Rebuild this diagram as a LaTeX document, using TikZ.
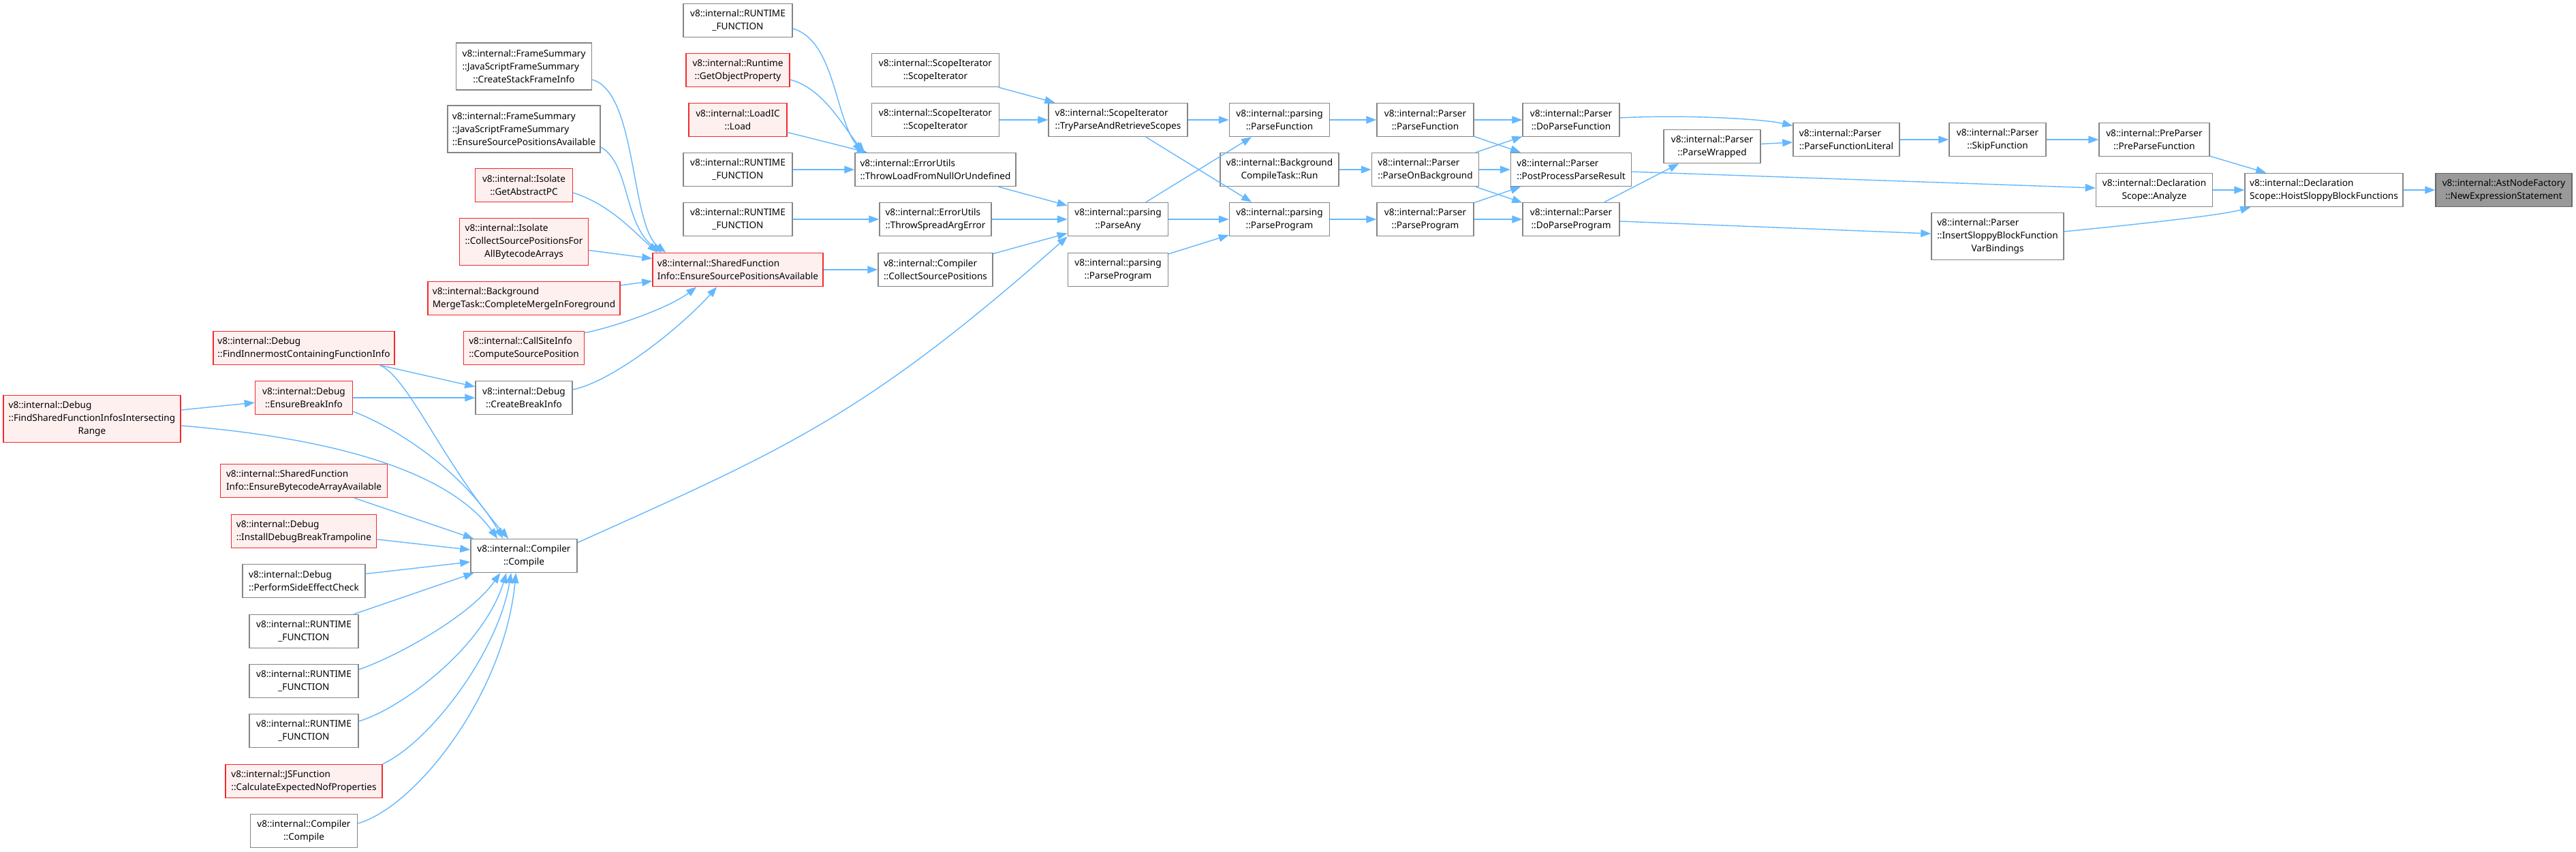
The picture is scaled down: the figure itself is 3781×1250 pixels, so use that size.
\documentclass[tikz,border=0pt]{standalone}
\usepackage{fontspec}
\usepackage{calc}
\newfontfamily\graphfont{Noto Sans}
\usetikzlibrary{arrows.meta}
\definecolor{edgeblue}{HTML}{63B8FF}
\definecolor{boxgray}{HTML}{858585}
\definecolor{boxred}{HTML}{F22A2A}
\definecolor{boxpink}{HTML}{FFF0F0}
\definecolor{rootfill}{HTML}{999999}
\definecolor{rootline}{HTML}{666666}
\newcommand{\padline}[2]{\makebox[\widthof{#1}][l]{#2}}

\begin{document}
\begin{tikzpicture}[x=1pt,y=-1pt,
  fn/.style={draw=boxgray,fill=white,line width=1.5pt,inner sep=2pt,minimum height=49pt,
    align=center,font=\graphfont\fontsize{13.6}{19}\selectfont},
  fnl/.style={fn,align=left},
  hot/.style={draw=boxred,fill=boxpink},
  root/.style={draw=rootline,fill=rootfill},
  tall/.style={minimum height=69pt},
  call/.style={draw=edgeblue,line width=1.4pt,-{Triangle[length=15pt,width=11pt]}},
]
\path[use as bounding box,fill=white] (0,0) rectangle (3781,1250);

\node[fn,root,minimum width=200pt] (ast) at (3675,279) {v8::internal::AstNodeFactory\\::NewExpressionStatement};
\node[fnl,minimum width=232pt] (dsh) at (3411,279) {v8::internal::Declaration\\Scope::HoistSloppyBlockFunctions};
\node[fn,minimum width=162pt] (ppf) at (3162,205) {v8::internal::PreParser\\::PreParseFunction};
\node[fn,minimum width=171pt] (dsa) at (3162,279) {v8::internal::Declaration\\Scope::Analyze};
\node[fn,minimum width=142pt] (psk) at (2932,205) {v8::internal::Parser\\::SkipFunction};
\node[fn,tall,minimum width=194pt] (pis) at (2932,347) {\padline{::InsertSloppyBlockFunction}{v8::internal::Parser}\\::InsertSloppyBlockFunction\\VarBindings};
\node[fnl,minimum width=156pt] (pfl) at (2710,205) {v8::internal::Parser\\::ParseFunctionLiteral};
\node[fn,minimum width=142pt] (pwr) at (2513,215) {v8::internal::Parser\\::ParseWrapped};
\node[fn,minimum width=142pt] (pdf) at (2306,176) {v8::internal::Parser\\::DoParseFunction};
\node[fnl,minimum width=177pt] (ppp) at (2306,249) {v8::internal::Parser\\::PostProcessParseResult};
\node[fn,minimum width=142pt] (pdp) at (2306,322) {v8::internal::Parser\\::DoParseProgram};
\node[fn,minimum width=142pt] (prf) at (2092,176) {v8::internal::Parser\\::ParseFunction};
\node[fnl,minimum width=157pt] (prb) at (2092,249) {v8::internal::Parser\\::ParseOnBackground};
\node[fn,minimum width=142pt] (prp) at (2092,322) {v8::internal::Parser\\::ParseProgram};
\node[fn,minimum width=147pt] (pfn) at (1878,176) {v8::internal::parsing\\::ParseFunction};
\node[fn,minimum width=174pt] (bct) at (1878,249) {v8::internal::Background\\CompileTask::Run};
\node[fn,minimum width=147pt] (ppr) at (1878,322) {v8::internal::parsing\\::ParseProgram};
\node[fnl,minimum width=204pt] (sitp) at (1641,176) {v8::internal::ScopeIterator\\::TryParseAndRetrieveScopes};
\node[fn,minimum width=147pt] (pany) at (1641,322) {v8::internal::parsing\\::ParseAny};
\node[fn,minimum width=147pt] (ppr2) at (1641,396) {v8::internal::parsing\\::ParseProgram};
\node[fn,minimum width=187pt] (si1) at (1373,103) {v8::internal::ScopeIterator\\::ScopeIterator};
\node[fn,minimum width=187pt] (si2) at (1373,176) {v8::internal::ScopeIterator\\::ScopeIterator};
\node[fnl,minimum width=236pt] (eutl) at (1373,249) {v8::internal::ErrorUtils\\::ThrowLoadFromNullOrUndefined};
\node[fnl,minimum width=164pt] (euts) at (1373,322) {v8::internal::ErrorUtils\\::ThrowSpreadArgError};
\node[fnl,minimum width=168pt] (cmpcs) at (1373,396) {v8::internal::Compiler\\::CollectSourcePositions};
\foreach \n/\x/\y in {rt1/1083/30,rt2/1083/249,rt3/1083/322,rtc1/446/927,rtc2/446/1000,rtc3/446/1073}
  \node[fn,minimum width=160pt] (\n) at (\x,\y) {v8::internal::RUNTIME\\\_FUNCTION};
\node[fn,hot,minimum width=152pt] (rgop) at (1083,103) {v8::internal::Runtime\\::GetObjectProperty};
\node[fn,hot,minimum width=144pt] (lic) at (1083,176) {v8::internal::LoadIC\\::Load};
\node[fnl,hot,minimum width=250pt] (sfis) at (1083,396) {v8::internal::SharedFunction\\Info::EnsureSourcePositionsAvailable};
\node[fn,tall,minimum width=199pt] (fsc) at (769,97.5) {v8::internal::FrameSummary\\\padline{v8::internal::FrameSummary}{::JavaScriptFrameSummary}\\::CreateStackFrameInfo};
\node[fnl,tall,minimum width=224pt] (fse) at (769,189.5) {v8::internal::FrameSummary\\::JavaScriptFrameSummary\\::EnsureSourcePositionsAvailable};
\node[fn,hot,minimum width=143pt] (isog) at (769,272) {v8::internal::Isolate\\::GetAbstractPC};
\node[fn,hot,tall,minimum width=189pt] (isoc) at (769,355) {\padline{::CollectSourcePositionsFor}{v8::internal::Isolate}\\::CollectSourcePositionsFor\\AllBytecodeArrays};
\node[fnl,hot,minimum width=282pt] (bmt) at (769,438) {v8::internal::Background\\MergeTask::CompleteMergeInForeground};
\node[fnl,hot,minimum width=177pt] (csi) at (769,511) {v8::internal::CallSiteInfo\\::ComputeSourcePosition};
\node[fn,minimum width=142pt] (dbgcb) at (769,584) {v8::internal::Debug\\::CreateBreakInfo};
\node[fn,minimum width=156pt] (cmpc) at (769,816) {v8::internal::Compiler\\::Compile};
\node[fnl,hot,minimum width=266pt] (dbgfi) at (446,511) {v8::internal::Debug\\::FindInnermostContainingFunctionInfo};
\node[fn,hot,minimum width=143pt] (dbgeb) at (446,584) {v8::internal::Debug\\::EnsureBreakInfo};
\node[fnl,hot,minimum width=245pt] (sfieb) at (446,706) {v8::internal::SharedFunction\\Info::EnsureBytecodeArrayAvailable};
\node[fnl,hot,minimum width=213pt] (dbgin) at (446,780) {v8::internal::Debug\\::InstallDebugBreakTrampoline};
\node[fnl,minimum width=180pt] (dbgps) at (446,853) {v8::internal::Debug\\::PerformSideEffectCheck};
\node[fnl,hot,minimum width=230pt] (jsf) at (446,1147) {v8::internal::JSFunction\\::CalculateExpectedNofProperties};
\node[fn,minimum width=157pt] (cmpc2) at (446,1220) {v8::internal::Compiler\\::Compile};
\node[fn,hot,tall,minimum width=260pt] (dbgfs) at (135,615) {\padline{::FindSharedFunctionInfosIntersecting}{v8::internal::Debug}\\::FindSharedFunctionInfosIntersecting\\Range};

\foreach \a/\b in {dsh/ast,dsa/dsh,ppf/dsh,psk/ppf,pfl/psk,pwr/pfl,ppp/dsa,pdp/pis,
    prf/pdf,prf/ppp,prb/pdf,prb/ppp,prb/pdp,prp/ppp,prp/pdp,pdp/pwr,
    pfn/prf,bct/prb,ppr/prp,sitp/pfn,sitp/ppr,pany/pfn,pany/ppr,ppr2/ppr,
    si1/sitp,si2/sitp,eutl/pany,euts/pany,cmpcs/pany,rt2/eutl,lic/eutl,rt3/euts,
    sfis/cmpcs,isoc/sfis,bmt/sfis,dbgfi/dbgcb,dbgeb/dbgcb,dbgfs/dbgeb,
    sfieb/cmpc,dbgin/cmpc,dbgps/cmpc,rtc1/cmpc}
  \draw[call] (\a) -- (\b);

\draw[call] ([yshift=3pt]pdf.east) .. controls (2480,168) and (2590,175) .. ([yshift=-5pt]pfl.north west);
\draw[call] ([yshift=7pt]pis.east) .. controls (3150,328) and (3260,316) .. ([xshift=9pt]dsh.south west);
\draw[call] ([yshift=-12pt]rt1.east) .. controls (1225,60) and (1225,170) .. ([xshift=11pt]eutl.north west);
\draw[call] ([yshift=-14pt]rgop.east) .. controls (1210,130) and (1240,190) .. ([xshift=15pt]eutl.north west);
\draw[call] ([yshift=-19.5pt]fsc.east) .. controls (935,135) and (925,330) .. ([xshift=20pt]sfis.north west);
\draw[call] ([yshift=-26.5pt]fse.east) .. controls (925,240) and (915,330) .. ([xshift=14pt]sfis.north west);
\draw[call] ([yshift=-11pt]isog.east) .. controls (895,300) and (930,340) .. ([xshift=8pt]sfis.north west);
\draw[call] ([yshift=-3pt]csi.north east) .. controls (910,478) and (985,450) .. ([xshift=65pt]sfis.south west);
\draw[call] ([yshift=12pt]dbgcb.east) .. controls (900,560) and (1000,480) .. ([xshift=95pt]sfis.south west);
\draw[call] ([xshift=-22pt]dbgfi.south east) .. controls (600,555) and (650,680) .. ([xshift=56pt]cmpc.north west);
\draw[call] ([yshift=5pt]dbgeb.south east) .. controls (575,625) and (680,690) .. ([xshift=48pt]cmpc.north west);
\draw[call] ([yshift=-10pt]dbgfs.east) .. controls (450,640) and (650,680) .. ([xshift=40pt]cmpc.north west);
\draw[call] ([yshift=17pt]rtc2.east) .. controls (580,965) and (690,905) .. ([xshift=44pt]cmpc.south west);
\draw[call] ([yshift=14pt]rtc3.east) .. controls (590,1040) and (710,950) .. ([xshift=53pt]cmpc.south west);
\draw[call] (jsf.north east) .. controls (630,1090) and (730,960) .. ([xshift=60pt]cmpc.south west);
\draw[call] ([yshift=11pt]cmpc2.east) .. controls (610,1185) and (740,1020) .. ([xshift=67pt]cmpc.south west);
\draw[call] ([yshift=-6pt]cmpc.north east) .. controls (1147,662) and (1267,613) .. (pany.south west);
\end{tikzpicture}
\end{document}
